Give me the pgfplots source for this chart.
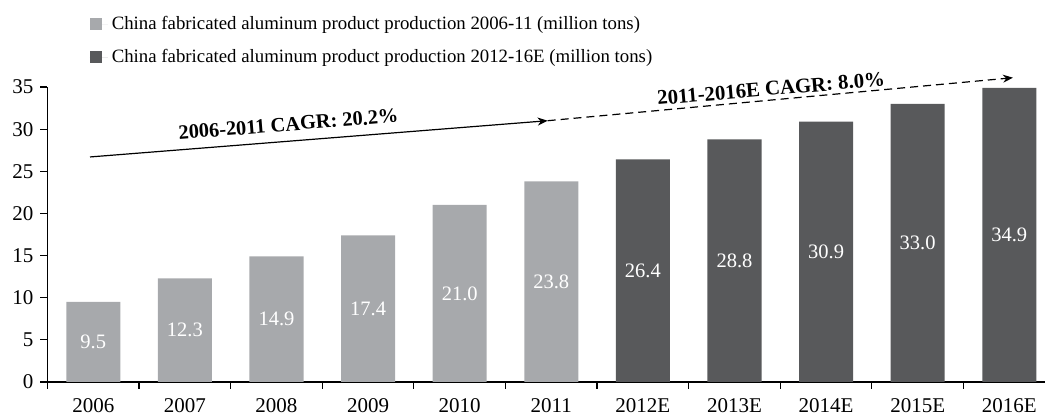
\documentclass[border=0pt]{standalone}
\usepackage{fontspec}
\setmainfont{Liberation Serif}
\usepackage{pgfplots}
\pgfplotsset{compat=1.18}
\usetikzlibrary{arrows.meta}
\definecolor{lightbar}{RGB}{167,169,172}
\definecolor{darkbar}{RGB}{88,89,91}
\pgfplotstableread{
x y
0 9.5
1 12.3
2 14.9
3 17.4
4 21.0
5 23.8
}\histdata
\pgfplotstableread{
x y
6 26.4
7 28.8
8 30.9
9 33.0
10 34.9
}\estdata
\begin{document}
\begin{tikzpicture}
\path[use as bounding box] (-23.75pt,-17pt) rectangle (498.75pt,191pt);
\begin{axis}[
  at={(0,0)}, anchor=south west,
  scale only axis,
  width=498.75pt, height=147.5pt,
  xmin=-0.5, xmax=10.39,
  ymin=0, ymax=35,
  axis x line*=bottom, axis y line*=left,
  axis line style={black, line width=0.6pt},
  clip=false,
  ytick={0,5,...,35},
  xtick={0,...,10},
  xticklabels={2006,2007,2008,2009,2010,2011,2012E,2013E,2014E,2015E,2016E},
  minor xtick={-0.5,0.5,...,9.5},
  tick align=outside,
  major tick length=3.5pt,
  minor tick length=3.5pt,
  x tick style={draw=none},
  minor x tick style={draw=black, line width=0.6pt},
  y tick style={black, line width=0.6pt},
  tick label style={font=\fontsize{10.5pt}{12pt}\selectfont},
  /pgf/number format/assume math mode=true,
  xticklabel style={yshift=-1pt},
  ybar, bar width=0.59,
  bar shift=0pt,
  visualization depends on=y \as \rawy,
  nodes near coords={\pgfmathprintnumber[fixed,fixed zerofill,precision=1]{\pgfplotspointmeta}},
  nodes near coords style={font=\fontsize{10.25pt}{12pt}\selectfont, text=white, anchor=center, shift={(axis direction cs:0,-0.5*\rawy)}},
  legend style={at={(0.042,1.255)}, anchor=north west, draw=none, fill=none,
    font=\fontsize{9.4pt}{11pt}\selectfont, inner sep=0pt, row sep=4.25pt},
  legend cell align=left,
  legend image code/.code={\fill[#1] (0pt,-3pt) rectangle (6pt,3pt); \path (0pt,0pt) -- (9pt,0pt);},
]
\addplot[fill=lightbar, draw=none] table[x=x,y=y] {\histdata};
\addlegendentry{China fabricated aluminum product production 2006-11 (million tons)}
\addplot[fill=darkbar, draw=none] table[x=x,y=y] {\estdata};
\addlegendentry{China fabricated aluminum product production 2012-16E (million tons)}
\draw[line width=0.6pt, -{Stealth[length=5pt,width=4pt]}] (axis cs:-0.036,26.7) -- (axis cs:4.96,31.0);
\draw[line width=0.6pt, dash pattern=on 4pt off 2.5pt, -{Stealth[length=5pt,width=4pt]}] (axis cs:4.96,31.0) -- (axis cs:10.04,36.1);
\node[font=\bfseries\fontsize{10.2pt}{12pt}\selectfont, rotate=4.5, anchor=base west] at (axis cs:0.86,28.7) {2006-2011 CAGR: 20.2\%};
\node[font=\bfseries\fontsize{10.4pt}{12pt}\selectfont, rotate=4.8, anchor=center] at (axis cs:7.4,34.8) {2011-2016E CAGR: 8.0\%};
\end{axis}
\end{tikzpicture}
\end{document}
